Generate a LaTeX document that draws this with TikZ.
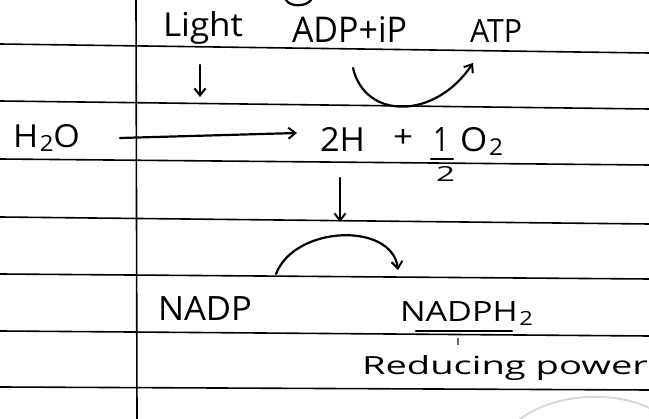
\documentclass[tikz,border=0pt]{standalone}
\usepackage{fontspec}
\setmainfont{Open Sans}
\usepackage{graphicx}
\usetikzlibrary{arrows.meta}
\newcommand{\hw}[3]{\resizebox{#1pt}{#2pt}{#3}}
\newcommand{\lowsub}[1]{\kern0.05em\raisebox{-0.12em}{\scriptsize #1}}
\tikzset{
  rule/.style={line width=1.6pt,black},
  ink/.style={line width=2.2pt,black,line cap=round,line join=round},
  inkarrow/.style={ink,-{Straight Barb[length=7pt,width=11pt,line width=2pt]}},
  lbl/.style={anchor=base west,inner sep=0pt,outer sep=0pt,text=black},
}
\begin{document}
\begin{tikzpicture}[x=1pt,y=-1pt]
\fill[white] (0,0) rectangle (649,419);
\useasboundingbox (0,0) rectangle (649,419);
% ruled paper
\draw[rule] (0,44) -- (649,53);
\draw[rule] (0,101) -- (649,109);
\draw[rule] (0,159) -- (649,165);
\draw[rule] (0,217) -- (649,224);
\draw[rule] (0,274) -- (649,279);
\draw[rule] (0,331) -- (649,336);
\draw[rule] (0,387) -- (649,390);
\draw[rule] (136,0) -- (137,419);
% faint mark at bottom right
\draw[line width=2pt,black!15] (520,419) .. controls (560,390) and (620,393) .. (649,408);
% descender of a letter cut off at the top
\draw[ink] (286,0) .. controls (290,7) and (306,7) .. (311,0);
% labels
\node[lbl] (light) at (163,37) {\hw{80}{25}{Light}};
\node[lbl] (adp) at (292,43) {\hw{115}{26}{ADP+iP}};
\node[lbl] (atp) at (470,43) {\hw{52}{23}{ATP}};
\node[lbl] (h2o) at (13,148) {\hw{67}{23}{H\lowsub{2}O}};
\node[lbl] (twoH) at (320,152) {\hw{45}{24}{2H}};
\node[inner sep=0pt] (plus) at (403,139) {\hw{20}{18}{+}};
\node[lbl] (one) at (433,152) {\hw{16}{24}{1}};
\node[lbl] (two) at (436,182) {\hw{19}{15}{2}};
\node[lbl] (o2) at (460,152) {\hw{43}{24}{O\lowsub{2}}};
\node[lbl] (nadp) at (158,321) {\hw{94}{24}{NADP}};
\node[lbl] (nadph) at (400,322) {\hw{133}{20}{NADPH\lowsub{2}}};
\node[lbl] (reduc) at (362,375) {\hw{286}{19}{Reducing power}};
% fraction bar and underline
\draw[ink] (431,159) -- (453,159);
\draw[ink] (416,331) -- (512,331);
\draw[line width=1.2pt,black!60] (458,338) -- (458,345);
% connector end points
\coordinate (lightA) at (200,65);
\coordinate (lightB) at (200,97);
\coordinate (atpA) at (353,68);
\coordinate (atpB) at (473,63);
\coordinate (h2oA) at (120,138);
\coordinate (h2oB) at (297,133);
\coordinate (downA) at (340,178);
\coordinate (downB) at (340,222);
\coordinate (nadpA) at (276,274);
\coordinate (nadpB) at (398,270);
% arrows
\draw[inkarrow] (lightA) -- (lightB);
\draw[inkarrow] (atpA) .. controls (365,120) and (435,120) .. (atpB);
\draw[inkarrow] (h2oA) -- (h2oB);
\draw[inkarrow] (downA) -- (downB);
\draw[inkarrow] (nadpA) .. controls (295,225) and (392,222) .. (nadpB);
\end{tikzpicture}
\end{document}
